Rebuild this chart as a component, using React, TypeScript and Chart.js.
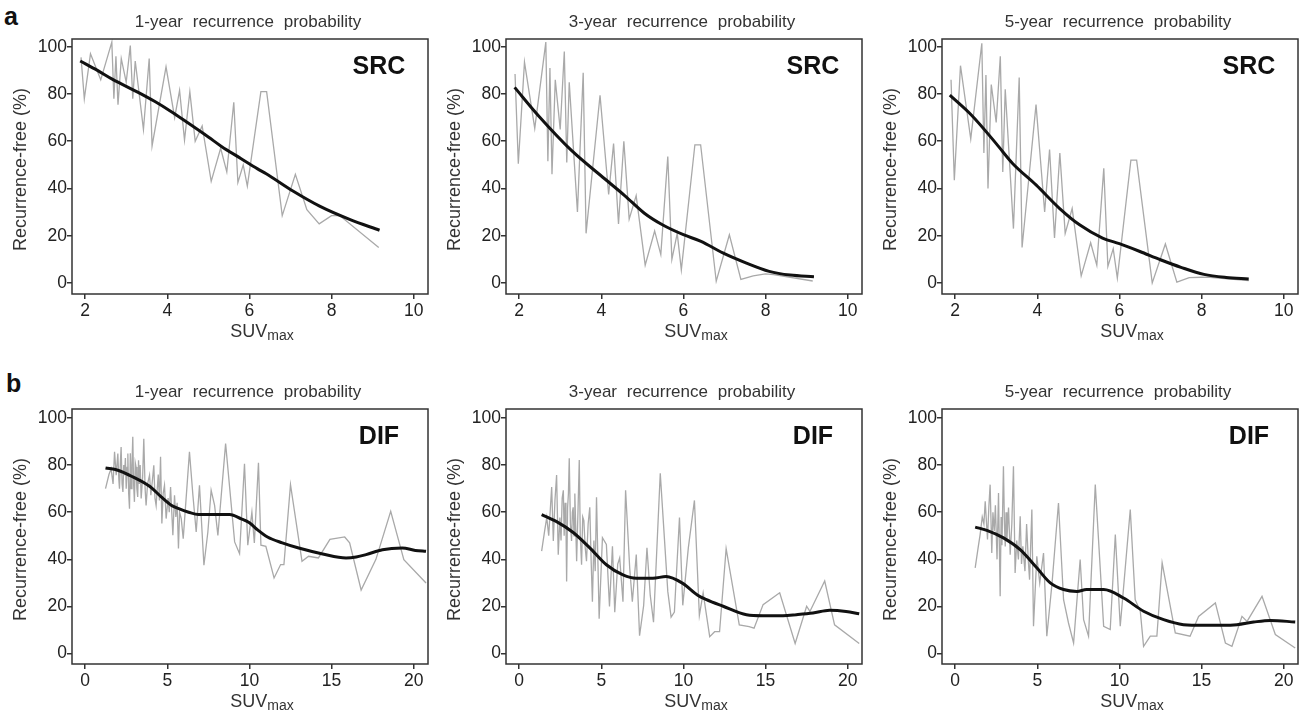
import React, { useEffect, useRef } from "react";
import { Chart, registerables } from "chart.js";

Chart.register(...registerables);

const FONT = "'Liberation Sans', Arial, Helvetica, sans-serif";

// ---- axis ticks ----
const suvTicksA = [2, 4, 6, 8, 10];
const suvTicksB = [0, 5, 10, 15, 20];
const pctTicks = [0, 20, 40, 60, 80, 100];

const titles = [
  "1-year recurrence probability",
  "3-year recurrence probability",
  "5-year recurrence probability",
];
const groupA = "SRC";
const groupB = "DIF";
const xTitleMain = "SUV";
const xTitleSub = "max";
const yTitle = "Recurrence-free (%)";

// ---- row a (SRC): observed (grey) ----
const suvA = [1.9, 1.98, 2.13, 2.38, 2.65, 2.7, 2.75, 2.8, 2.88, 3.0, 3.1, 3.16, 3.22, 3.42, 3.56, 3.63, 3.97, 4.18, 4.3, 4.42, 4.55, 4.68, 4.85, 5.07, 5.3, 5.45, 5.62, 5.72, 5.85, 5.95, 6.28, 6.42, 6.8, 7.12, 7.4, 7.7, 8.0, 8.2, 9.15];
const src1y = [95.5, 78, 97, 86, 102, 78, 96, 75.5, 95, 85, 100.5, 78, 94, 65, 95, 58, 91.5, 70, 81.5, 60.5, 81, 60, 66.5, 43, 57, 47, 76.5, 42.5, 50, 41, 81, 81, 28.5, 46, 31, 25, 28.5, 28.5, 15];
const src3y = [88.5, 50.5, 93.5, 65.5, 102, 51.5, 91, 46, 86, 65, 98, 51, 85, 30, 89, 21, 79.5, 37.5, 59, 25, 60, 27, 37, 7.5, 22, 12, 53.5, 10, 21, 5.5, 58.5, 58.5, 0.7, 20.4, 1.5, 3, 3.8, 3.5, 0.8];
const src5y = [86, 43.5, 92, 61, 101.5, 55, 88, 40, 84, 68, 96, 47, 82, 23, 87, 15, 75.5, 30, 56.5, 19, 55, 21, 31.5, 3, 17, 7.5, 48.5, 7, 14.5, 2, 52, 52, 0, 16.5, 0.3, 2.2, 2.4, 2.3, 1];

// ---- row a (SRC): smoothed (black) ----
const srcFit1x = [1.88, 2.3, 2.67, 3.28, 3.7, 4.1, 4.5, 5.0, 5.32, 5.8, 6.2, 6.41, 7.06, 7.71, 8.44, 9.17];
const srcFit1y = [94, 90, 86.2, 80.8, 76.8, 72.5, 67.8, 61.8, 57.8, 52.6, 48.3, 46.2, 38.9, 32.5, 26.9, 22.3];
const srcFit3x = [1.89, 2.47, 3.28, 4.09, 4.57, 5.05, 5.5, 6.0, 6.43, 6.96, 7.52, 8.09, 8.6, 9.18];
const srcFit3y = [82.8, 70.8, 56, 44, 37, 29.5, 24.5, 20.4, 17.6, 12.7, 8.5, 4.9, 3.3, 2.6];
const srcFit5x = [1.87, 2.4, 3.0, 3.4, 3.97, 4.54, 5.03, 5.59, 6.0, 6.5, 7.0, 7.5, 8.06, 8.6, 9.15];
const srcFit5y = [79.5, 71, 59, 50.6, 41.5, 31.6, 24.6, 19, 16.6, 13.3, 9.8, 6.6, 3.6, 2.3, 1.7];

// ---- row b (DIF): observed (grey) ----
const dif1x = [1.24, 1.45, 1.58, 1.7, 1.79, 1.89, 1.99, 2.05, 2.09, 2.15, 2.19, 2.25, 2.3, 2.35, 2.4, 2.45, 2.5, 2.55, 2.6, 2.65, 2.7, 2.75, 2.8, 2.85, 2.9, 2.95, 3.0, 3.05, 3.1, 3.15, 3.2, 3.25, 3.3, 3.35, 3.41, 3.5, 3.57, 3.65, 3.71, 3.8, 3.92, 4.0, 4.1, 4.18, 4.25, 4.32, 4.45, 4.52, 4.59, 4.67, 4.75, 4.83, 4.93, 5.05, 5.12, 5.2, 5.34, 5.44, 5.52, 5.6, 5.68, 5.75, 5.85, 5.97, 6.35, 6.56, 6.76, 6.96, 7.23, 7.47, 7.67, 7.88, 8.08, 8.55, 9.1, 9.4, 9.7, 9.9, 10.15, 10.3, 10.55, 10.7, 11.0, 11.5, 11.9, 12.1, 12.5, 13.2, 13.6, 14.2, 14.9, 15.8, 16.1, 16.8, 17.7, 18.6, 19.4, 20.75];
const dif1y = [70, 76, 78.5, 72, 85.6, 75.7, 84.9, 74, 70, 82, 87.7, 72, 68.6, 80, 75.7, 83, 70, 79, 84.9, 68, 61.5, 85, 70, 80, 92, 72, 64.4, 81, 79.2, 70, 66.5, 82, 72, 80, 65.8, 75, 91.2, 70, 62.9, 72, 75.7, 67.2, 74, 79.9, 66, 62.9, 76, 65, 83.5, 55.2, 68, 71.4, 57.3, 66, 60, 70.7, 50.2, 67.2, 58, 64, 44.6, 60, 57.3, 48.8, 85.6, 67.2, 51.6, 71.4, 37.5, 51.6, 69.3, 62.9, 50.2, 89.1, 47.4, 42.4, 80.6, 46, 60, 47, 81, 46, 45.5, 32.1, 37.8, 37.8, 71.7, 39.2, 41.3, 40.6, 48.5, 49.5, 47, 27, 40, 60.4, 39.9, 30];
const dif3x = [1.37, 1.55, 1.68, 1.8, 1.98, 2.08, 2.18, 2.28, 2.38, 2.48, 2.55, 2.62, 2.69, 2.74, 2.8, 2.85, 2.89, 2.95, 3.0, 3.05, 3.12, 3.19, 3.24, 3.29, 3.34, 3.39, 3.5, 3.58, 3.66, 3.72, 3.8, 3.87, 3.94, 4.02, 4.1, 4.2, 4.3, 4.38, 4.46, 4.55, 4.63, 4.71, 4.87, 5.07, 5.31, 5.5, 5.68, 5.82, 6.0, 6.12, 6.32, 6.48, 6.73, 6.89, 7.13, 7.33, 7.58, 7.78, 7.98, 8.18, 8.59, 9.05, 9.25, 9.45, 9.76, 9.96, 10.3, 10.67, 10.97, 11.2, 11.6, 11.9, 12.2, 12.6, 13.4, 14.0, 14.3, 14.85, 15.86, 16.8, 17.5, 17.7, 18.6, 19.2, 20.7];
const dif3y = [43.5, 52, 57.8, 50, 70.7, 47.8, 65, 75.8, 42, 57.8, 48, 66, 69.3, 50, 64, 55, 30.6, 62, 68, 82.9, 55, 47.8, 60, 62.1, 50, 67.9, 39.2, 60, 82.2, 50, 37.7, 58, 56.4, 45, 39.2, 55, 62.1, 40, 22, 48, 35, 66.4, 14.8, 49.2, 46.3, 20, 45.6, 17.6, 38, 40.6, 22, 69.3, 36.3, 22, 42, 7.6, 20.5, 44.9, 24.8, 13.3, 76.5, 26.3, 15.5, 17.6, 57.8, 20.5, 45, 65, 16.2, 25.8, 7.2, 9.3, 9.3, 44.5, 12.2, 11.5, 10.8, 20.8, 25.8, 4.3, 20.1, 17.9, 30.8, 12.2, 4.3];
const dif5x = [1.22, 1.4, 1.52, 1.65, 1.75, 1.83, 1.97, 2.05, 2.13, 2.23, 2.3, 2.38, 2.45, 2.55, 2.64, 2.74, 2.8, 2.85, 2.9, 2.94, 3.0, 3.05, 3.1, 3.15, 3.25, 3.35, 3.45, 3.55, 3.65, 3.75, 3.85, 3.96, 4.04, 4.12, 4.25, 4.35, 4.45, 4.53, 4.67, 4.77, 4.97, 5.15, 5.38, 5.58, 5.9, 6.29, 6.6, 6.9, 7.21, 7.61, 7.82, 8.12, 8.53, 9.04, 9.44, 9.75, 10.05, 10.66, 10.96, 11.27, 11.47, 11.88, 12.28, 12.6, 13.4, 14.3, 14.82, 15.84, 16.45, 16.85, 17.46, 17.77, 18.68, 19.49, 20.7];
const dif5y = [36.4, 45, 50.5, 58, 55, 64.6, 48.4, 62, 71.7, 42.7, 60, 52, 63, 40, 68.2, 24.3, 58, 46, 65, 79.5, 55, 45.5, 60, 48, 62, 42, 55, 79.5, 34.2, 48, 40, 58.3, 38, 45.5, 35, 55, 40, 31.4, 61.1, 11.6, 41.3, 30, 42.7, 7.4, 30, 63.9, 22.9, 13, 4.5, 39.9, 14.4, 7.4, 71.7, 11.6, 10.2, 50.5, 11.6, 61.1, 22.9, 18, 3.1, 7.4, 7.4, 38.5, 8.8, 7.4, 15.8, 21.5, 4.5, 3.1, 15.8, 13.7, 24.3, 8.1, 2.4];

// ---- row b (DIF): smoothed (black) ----
const difFit1x = [1.24, 1.99, 2.9, 3.92, 4.63, 5.24, 5.7, 6.3, 6.9, 8.8, 9.5, 10.0, 10.5, 11.1, 12.0, 13.0, 14.46, 15.88, 16.5, 17.1, 18.1, 19.3, 20.1, 20.75];
const difFit1y = [78.8, 77.8, 75, 71, 66.5, 63, 61.5, 60, 59, 59, 57.2, 55.5, 52.5, 49.5, 47, 44.8, 42.3, 40.6, 41, 42, 44.1, 44.8, 43.8, 43.4];
const difFit3x = [1.37, 2.28, 3.29, 4.3, 5.31, 6.32, 7.13, 8.14, 8.95, 9.96, 10.87, 11.37, 12.42, 13.84, 14.85, 16.06, 16.87, 17.88, 18.9, 19.9, 20.7];
const difFit3y = [59, 56, 51.4, 44.9, 37.7, 33.4, 32, 32, 32.7, 29.8, 24.8, 23, 20.1, 16.5, 16.1, 16.1, 16.5, 17.2, 18.4, 17.9, 16.9];
const difFit5x = [1.22, 1.93, 2.94, 3.96, 4.97, 5.79, 6.6, 7.41, 8.0, 9.04, 10.25, 11.47, 12.69, 13.9, 15.13, 16.35, 17.16, 18.17, 19.19, 20.7];
const difFit5y = [53.7, 52.3, 49.1, 44.1, 36.4, 30, 27.2, 26.4, 27.2, 27.2, 23.6, 18, 14.4, 12.3, 12, 12, 12.3, 13.4, 14.1, 13.4];

const zip = (xs: number[], ys: number[]) => xs.map((x, i) => ({ x, y: ys[i] }));

// layout constants (pixels)
const PLOT_W = 356;
const PLOT_H = 255;
const PAD_L = 72;
const PAD_T = 39;
const PAD_R = 8;
const PAD_B = 50;

type PanelProps = {
  plotLeft: number;
  plotTop: number;
  xMin: number;
  xMax: number;
  yMin: number;
  yMax: number;
  xTicks: number[];
  obsX: number[];
  obsY: number[];
  fitX: number[];
  fitY: number[];
  title: string;
  group: string;
};

function Panel(p: PanelProps) {
  const ref = useRef<HTMLCanvasElement | null>(null);
  const W = PLOT_W + PAD_L + PAD_R;
  const H = PLOT_H + PAD_T + PAD_B;

  useEffect(() => {
    if (!ref.current) return;
    const decor = {
      id: "decor",
      afterDraw(chart: any) {
        const { ctx, chartArea: a } = chart;
        ctx.save();
        // frame
        ctx.strokeStyle = "#333";
        ctx.lineWidth = 1.5;
        ctx.strokeRect(a.left, a.top, a.right - a.left, a.bottom - a.top);
        // title
        ctx.fillStyle = "#333";
        ctx.font = `17px ${FONT}`;
        ctx.textAlign = "center";
        ctx.textBaseline = "alphabetic";
        try { (ctx as any).wordSpacing = "5px"; } catch (e) {}
        ctx.fillText(p.title, (a.left + a.right) / 2 - 2, a.top - 12.5);
        try { (ctx as any).wordSpacing = "0px"; } catch (e) {}
        // group tag
        ctx.fillStyle = "#111";
        ctx.font = `bold 25px ${FONT}`;
        ctx.fillText(p.group, a.right - 49, a.top + 35);
        // x title with subscript
        ctx.fillStyle = "#333";
        ctx.font = `18px ${FONT}`;
        const w1 = ctx.measureText(xTitleMain).width;
        ctx.font = `14px ${FONT}`;
        const w2 = ctx.measureText(xTitleSub).width;
        const cx = (a.left + a.right) / 2 + 12;
        const sx = cx - (w1 + w2) / 2;
        ctx.textAlign = "left";
        ctx.font = `18px ${FONT}`;
        ctx.fillText(xTitleMain, sx, a.bottom + 43);
        ctx.font = `14px ${FONT}`;
        ctx.fillText(xTitleSub, sx + w1, a.bottom + 46);
        // y title
        ctx.font = `18px ${FONT}`;
        ctx.textAlign = "center";
        ctx.textBaseline = "middle";
        ctx.translate(a.left - 51, (a.top + a.bottom) / 2 + 3);
        ctx.rotate(-Math.PI / 2);
        ctx.fillText(yTitle, 0, 0);
        ctx.restore();
      },
    };

    const chart = new Chart(ref.current, {
      type: "line",
      data: {
        datasets: [
          {
            data: zip(p.obsX, p.obsY),
            borderColor: "#a9a9a9",
            borderWidth: 1.3,
            pointRadius: 0,
            tension: 0,
            order: 2,
          },
          {
            data: zip(p.fitX, p.fitY),
            borderColor: "#111",
            borderWidth: 3,
            pointRadius: 0,
            cubicInterpolationMode: "monotone",
            order: 1,
          },
        ],
      },
      options: {
        responsive: false,
        animation: false,
        events: [],
        layout: { padding: { left: 0, top: PAD_T, right: PAD_R, bottom: 0 } },
        plugins: { legend: { display: false }, tooltip: { enabled: false } },
        scales: {
          x: {
            type: "linear",
            min: p.xMin,
            max: p.xMax,
            afterBuildTicks: (s: any) => {
              s.ticks = p.xTicks.map((v) => ({ value: v }));
            },
            afterFit: (s: any) => {
              s.height = PAD_B;
            },
            border: { display: false },
            grid: {
              drawOnChartArea: false,
              drawTicks: true,
              tickLength: 5,
              color: "#333",
              lineWidth: 1.5,
            },
            ticks: {
              color: "#222",
              font: { size: 17.5, family: FONT },
              padding: 2,
              maxRotation: 0,
              autoSkip: false,
            },
          },
          y: {
            type: "linear",
            min: p.yMin,
            max: p.yMax,
            afterBuildTicks: (s: any) => {
              s.ticks = pctTicks.map((v) => ({ value: v }));
            },
            afterFit: (s: any) => {
              s.width = PAD_L;
            },
            border: { display: false },
            grid: {
              drawOnChartArea: false,
              drawTicks: true,
              tickLength: 5,
              color: "#333",
              lineWidth: 1.5,
            },
            ticks: {
              color: "#222",
              font: { size: 17.5, family: FONT },
              padding: 0,
              autoSkip: false,
            },
          },
        },
      },
      plugins: [decor],
    } as any);
    return () => chart.destroy();
  }, []);

  return (
    <canvas
      ref={ref}
      width={W}
      height={H}
      style={{
        position: "absolute",
        left: p.plotLeft - PAD_L,
        top: p.plotTop - PAD_T,
        width: W,
        height: H,
      }}
    />
  );
}

const colLefts = [72, 506, 942];
const rowTops = [39, 409];

export default function App() {
  const obsA = [src1y, src3y, src5y];
  const fitAx = [srcFit1x, srcFit3x, srcFit5x];
  const fitAy = [srcFit1y, srcFit3y, srcFit5y];
  const obsBx = [dif1x, dif3x, dif5x];
  const obsBy = [dif1y, dif3y, dif5y];
  const fitBx = [difFit1x, difFit3x, difFit5x];
  const fitBy = [difFit1y, difFit3y, difFit5y];

  const tagStyle: React.CSSProperties = {
    position: "absolute",
    fontFamily: FONT,
    fontWeight: "bold",
    fontSize: 25,
    lineHeight: "25px",
    color: "#111",
  };

  return (
    <div
      style={{
        position: "absolute",
        left: 0,
        top: 0,
        width: 1306,
        height: 714,
        overflow: "hidden",
        background: "#fff",
      }}
    >
      <div style={{ ...tagStyle, left: 4, top: 4 }}>a</div>
      <div style={{ ...tagStyle, left: 6, top: 370.5 }}>b</div>
      {colLefts.map((l, i) => (
        <Panel
          key={"a" + i}
          plotLeft={l}
          plotTop={rowTops[0]}
          xMin={1.68}
          xMax={10.35}
          yMin={-4.7}
          yMax={103.3}
          xTicks={suvTicksA}
          obsX={suvA}
          obsY={obsA[i]}
          fitX={fitAx[i]}
          fitY={fitAy[i]}
          title={titles[i]}
          group={groupA}
        />
      ))}
      {colLefts.map((l, i) => (
        <Panel
          key={"b" + i}
          plotLeft={l}
          plotTop={rowTops[1]}
          xMin={-0.8}
          xMax={20.87}
          yMin={-4.4}
          yMax={103.8}
          xTicks={suvTicksB}
          obsX={obsBx[i]}
          obsY={obsBy[i]}
          fitX={fitBx[i]}
          fitY={fitBy[i]}
          title={titles[i]}
          group={groupB}
        />
      ))}
    </div>
  );
}
